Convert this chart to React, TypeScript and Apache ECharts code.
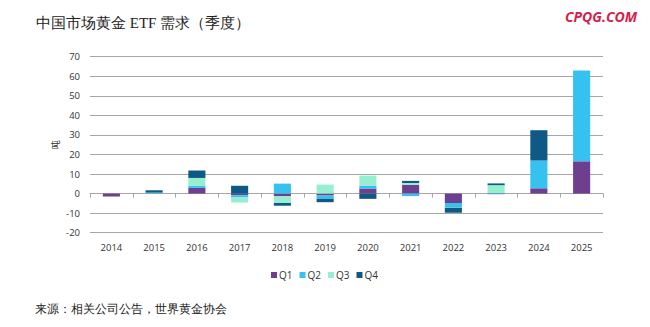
import React, { useEffect, useRef } from "react";
import * as echarts from "echarts";

const years = ["2014", "2015", "2016", "2017", "2018", "2019", "2020", "2021", "2022", "2023", "2024", "2025"];
const q1 = [-1.5, 0, 2.9, -0.8, -1.4, -1.0, 2.6, 4.4, -4.8, -0.3, 2.7, 16.5];
const q2 = [0, 0.5, 1.2, -1.2, 5.1, -1.7, 1.5, -1.3, -2.1, 0.3, 14.2, 46.5];
const q3 = [0, 0, 3.9, -2.6, -3.4, 4.6, 5.1, 1.0, -0.3, 4.0, 0, null];
const q4 = [0, 1.2, 3.8, 4.0, -1.4, -1.7, -2.7, 1.1, -2.6, 0.9, 15.5, null];
const seriesNames = ["Q1", "Q2", "Q3", "Q4"];
const colors = ["#6F3F8F", "#35C2F1", "#96F0D0", "#0F5A85"];
const yTicks = { min: -20, max: 70, interval: 10 };

export default function App() {
  const ref = useRef<HTMLDivElement>(null);
  useEffect(() => {
    document.body.style.margin = "0";
    if (!ref.current) return;
    const chart = echarts.init(ref.current, null, { renderer: "svg" });
    const data = [q1, q2, q3, q4];
    chart.setOption({
      animation: false,
      backgroundColor: "#ffffff",
      title: [
        {
          text: "中国市场黄金 ETF 需求（季度）",
          left: 31,
          top: 10,
          textStyle: { fontFamily: "serif", fontSize: 15, fontWeight: "normal", color: "#222" },
        },
        {
          text: "CPQG.COM",
          right: 8,
          top: 4,
          textStyle: { fontFamily: "Open Sans", fontSize: 14, fontWeight: "bold", fontStyle: "italic", color: "#D81E4A" },
        },
        {
          text: "来源：相关公司公告，世界黄金协会",
          left: 30,
          top: 298,
          textStyle: { fontFamily: "serif", fontSize: 12, fontWeight: "normal", color: "#222" },
        },
      ],
      legend: {
        data: seriesNames,
        left: 266,
        top: 265,
        itemWidth: 6,
        itemHeight: 6,
        itemGap: 7,
        icon: "rect",
        textStyle: { fontFamily: "Open Sans", fontSize: 10, color: "#333", padding: [0, 0, 0, -3] },
      },
      grid: { left: 90, right: 47, top: 56.7, bottom: 94.3 },
      xAxis: [
        {
          type: "category",
          data: years,
          axisLine: { show: false, onZero: false },
          axisTick: { show: false },
          axisLabel: { fontFamily: "Open Sans", fontSize: 9.5, color: "#333", margin: 10 },
        },
        {
          type: "category",
          data: years,
          position: "bottom",
          axisLine: { show: true, onZero: true, lineStyle: { color: "#A6A6A6", width: 1 } },
          axisTick: { show: true, length: 4, inside: false, lineStyle: { color: "#A6A6A6" } },
          axisLabel: { show: false },
        },
      ],
      yAxis: {
        type: "value",
        min: yTicks.min,
        max: yTicks.max,
        interval: yTicks.interval,
        name: "吨",
        nameLocation: "middle",
        nameGap: 30,
        nameMoveOverlap: false,
        nameTextStyle: { fontFamily: "Noto Sans CJK SC", fontSize: 9, color: "#333" },
        axisLine: { show: false },
        axisTick: { show: false },
        axisLabel: { fontFamily: "Open Sans", fontSize: 9.5, color: "#333", margin: 10 },
        splitLine: { lineStyle: { color: "#A6A6A6", width: 1 } },
      },
      series: seriesNames.map((n, i) => ({
        name: n,
        type: "bar",
        stack: "total",
        xAxisIndex: 0,
        barWidth: "40%",
        itemStyle: { color: colors[i] },
        data: data[i],
      })),
    });
    return () => chart.dispose();
  }, []);
  return <div ref={ref} style={{ width: 650, height: 327 }} />;
}
